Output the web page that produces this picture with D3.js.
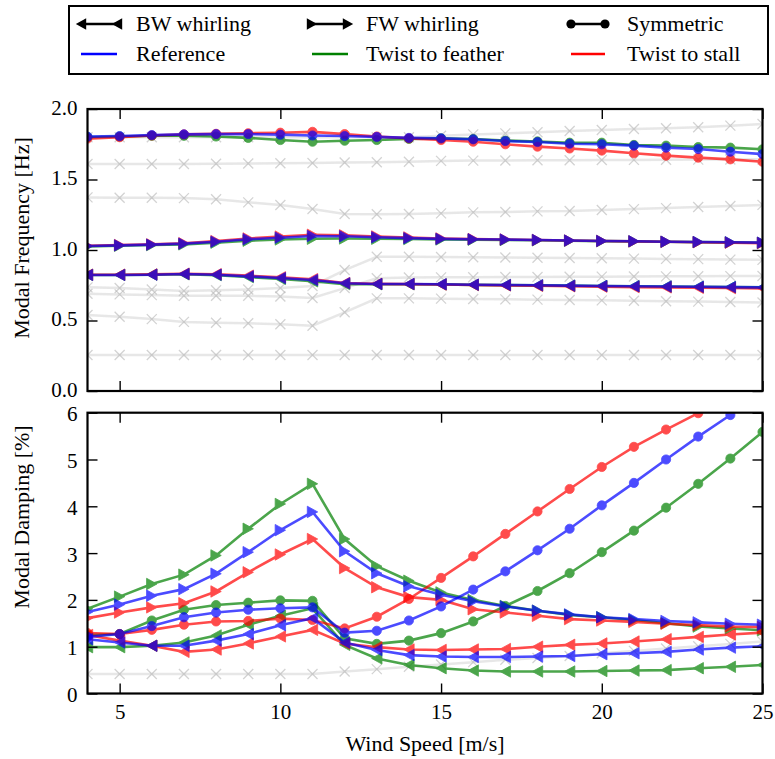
<!DOCTYPE html>
<html><head><meta charset="utf-8">
<script src="https://cdn.jsdelivr.net/npm/d3@7"></script>
<style>
body{margin:0;background:#fff}
</style>
</head><body>
<svg id="chart" width="775" height="759" font-family="'Liberation Serif', 'DejaVu Serif', serif"></svg>
<script>
// ---------------- DATA ----------------
const windSpeed = [4,5,6,7,8,9,10,11,12,13,14,15,16,17,18,19,20,21,22,23,24,25];
const variants = ["Twist to feather","Twist to stall","Reference"];
const variantColors = ["#008000","#ff0000","#0000ff"];
const modes = ["BW whirling","FW whirling","Symmetric"];

// Modal frequency [Hz] — order: feather, stall, reference
const freqBW = [
  [0.823,0.823,0.825,0.828,0.822,0.808,0.795,0.778,0.758,0.757,0.757,0.756,0.753,0.751,0.749,0.747,0.745,0.743,0.741,0.739,0.737,0.735],
  [0.825,0.825,0.827,0.832,0.828,0.818,0.806,0.793,0.766,0.760,0.758,0.755,0.752,0.749,0.746,0.743,0.740,0.737,0.735,0.732,0.730,0.728],
  [0.823,0.823,0.825,0.830,0.825,0.813,0.801,0.787,0.764,0.759,0.759,0.757,0.754,0.752,0.750,0.747,0.745,0.743,0.741,0.739,0.737,0.735]
];
const freqFW = [
  [1.026,1.030,1.035,1.040,1.052,1.066,1.075,1.080,1.082,1.080,1.078,1.075,1.073,1.071,1.069,1.066,1.063,1.061,1.058,1.056,1.054,1.051],
  [1.030,1.035,1.040,1.048,1.063,1.082,1.095,1.108,1.104,1.096,1.089,1.082,1.078,1.075,1.071,1.067,1.064,1.061,1.058,1.055,1.052,1.049],
  [1.028,1.033,1.038,1.045,1.059,1.076,1.087,1.099,1.097,1.090,1.084,1.079,1.076,1.074,1.071,1.067,1.064,1.062,1.059,1.057,1.055,1.052]
];
const freqSym = [
  [1.800,1.805,1.810,1.810,1.805,1.795,1.780,1.768,1.775,1.780,1.788,1.792,1.787,1.776,1.770,1.761,1.761,1.745,1.740,1.730,1.726,1.714],
  [1.790,1.800,1.812,1.820,1.824,1.828,1.832,1.838,1.822,1.805,1.792,1.780,1.768,1.750,1.733,1.720,1.705,1.686,1.669,1.655,1.643,1.626],
  [1.804,1.808,1.815,1.820,1.822,1.822,1.818,1.812,1.808,1.802,1.795,1.792,1.785,1.773,1.766,1.754,1.750,1.740,1.726,1.716,1.697,1.680]
];
// other (grey) modes, frequency
const freqOther = [
  [0.255,0.255,0.255,0.255,0.255,0.255,0.255,0.255,0.255,0.255,0.255,0.255,0.255,0.255,0.255,0.255,0.255,0.255,0.255,0.255,0.255,0.255],
  [0.539,0.527,0.510,0.490,0.484,0.480,0.473,0.463,0.558,0.657,0.657,0.655,0.652,0.650,0.648,0.645,0.643,0.640,0.637,0.634,0.631,0.628],
  [0.690,0.685,0.680,0.675,0.675,0.675,0.670,0.660,0.730,0.800,0.805,0.806,0.807,0.808,0.809,0.810,0.811,0.812,0.813,0.814,0.815,0.816],
  [0.735,0.730,0.720,0.710,0.715,0.720,0.730,0.745,0.858,0.952,0.952,0.950,0.948,0.947,0.945,0.943,0.941,0.939,0.937,0.935,0.932,0.930],
  [1.373,1.370,1.370,1.368,1.360,1.338,1.319,1.291,1.255,1.253,1.255,1.260,1.267,1.270,1.274,1.276,1.284,1.290,1.297,1.305,1.312,1.320],
  [1.610,1.610,1.610,1.610,1.612,1.613,1.615,1.617,1.620,1.622,1.626,1.632,1.634,1.635,1.636,1.637,1.638,1.639,1.640,1.641,1.642,1.643],
  [1.800,1.800,1.800,1.800,1.800,1.800,1.800,1.800,1.800,1.800,1.800,1.810,1.820,1.827,1.835,1.844,1.851,1.858,1.863,1.870,1.882,1.894]
];

// Modal damping [%] — order: feather, stall, reference
const dampBW = [
  [0.99,0.99,1.02,1.09,1.24,1.47,1.66,1.82,1.04,0.75,0.61,0.54,0.49,0.47,0.47,0.47,0.48,0.49,0.50,0.54,0.57,0.61],
  [1.25,1.13,1.02,0.89,0.94,1.07,1.22,1.36,1.07,0.99,0.94,0.93,0.94,0.95,1.00,1.04,1.07,1.11,1.16,1.21,1.26,1.30],
  [1.16,1.09,1.02,1.02,1.13,1.27,1.46,1.61,1.09,0.93,0.82,0.79,0.78,0.78,0.79,0.80,0.84,0.86,0.89,0.94,0.98,1.01]
];
const dampFW = [
  [1.81,2.07,2.34,2.54,2.95,3.52,4.05,4.48,3.30,2.72,2.41,2.16,2.00,1.87,1.77,1.68,1.63,1.57,1.50,1.43,1.39,1.35],
  [1.61,1.73,1.84,1.93,2.18,2.59,2.97,3.30,2.68,2.27,2.06,2.00,1.80,1.73,1.66,1.59,1.56,1.53,1.49,1.46,1.43,1.42],
  [1.74,1.90,2.09,2.23,2.56,3.02,3.49,3.88,3.04,2.57,2.29,2.11,1.97,1.86,1.77,1.69,1.63,1.59,1.55,1.52,1.49,1.47]
];
const dampSym = [
  [1.25,1.27,1.56,1.79,1.89,1.94,1.99,1.98,1.18,1.06,1.13,1.29,1.54,1.87,2.19,2.57,3.02,3.48,3.97,4.48,5.02,5.59],
  [1.29,1.27,1.36,1.47,1.54,1.55,1.60,1.57,1.39,1.64,2.02,2.47,2.93,3.41,3.89,4.37,4.84,5.27,5.64,5.99,6.35,6.70],
  [1.21,1.27,1.44,1.63,1.73,1.79,1.82,1.84,1.30,1.34,1.56,1.86,2.22,2.61,3.06,3.52,4.02,4.50,5.00,5.49,5.95,6.40]
];
const dampOther = [
  [0.415,0.415,0.415,0.415,0.415,0.415,0.415,0.415,0.47,0.52,0.57,0.62,0.67,0.72,0.76,0.80,0.86,0.91,0.96,1.01,1.06,1.11]
];

const xTicks = [5,10,15,20,25];
const freqTicks = [0.0,0.5,1.0,1.5,2.0];
const dampTicks = [0,1,2,3,4,5,6];

// ---------------- LAYOUT ----------------
const FONT = "'Liberation Serif', 'DejaVu Serif', serif";
const svg = d3.select("#chart");
const xL = 87.5, xR = 762.5;
const top1 = 109, bot1 = 391;
const top2 = 412.7, bot2 = 693.5;
const FS = 22;
const TFS = 21;

const x = d3.scaleLinear().domain([4,25]).range([xL,xR]);
const yF = d3.scaleLinear().domain([0,2]).range([bot1,top1]);
const yD = d3.scaleLinear().domain([0,6]).range([bot2,top2]);

const defs = svg.append("defs");
defs.append("clipPath").attr("id","clip1").append("rect")
  .attr("x",xL).attr("y",top1).attr("width",xR-xL).attr("height",bot1-top1);
defs.append("clipPath").attr("id","clip2").append("rect")
  .attr("x",xL).attr("y",top2).attr("width",xR-xL).attr("height",bot2-top2);

function markerPath(kind, s){
  if(kind==="BW"){ return `M${-s},0L${s},${-s*1.1}L${s},${s*1.1}Z`; }
  if(kind==="FW"){ return `M${s},0L${-s},${-s*1.1}L${-s},${s*1.1}Z`; }
  if(kind==="X"){ return `M${-s},${-s}L${s},${s}M${-s},${s}L${s},${-s}`; }
  return d3.symbol(d3.symbolCircle, Math.PI*s*s)();
}

function drawPanel(yScale, clipId, others, series){
  const g = svg.append("g").attr("clip-path",`url(#${clipId})`);
  const line = d3.line().x((d,i)=>x(windSpeed[i])).y(d=>yScale(d));
  others.forEach(vals=>{
    const gg = g.append("g");
    gg.append("path").attr("d",line(vals)).attr("fill","none")
      .attr("stroke","#d3d3d3").attr("stroke-width",2.5).attr("opacity",0.55);
    gg.selectAll("path.m").data(vals).join("path").attr("class","m")
      .attr("transform",(d,i)=>`translate(${x(windSpeed[i])},${yScale(d)})`)
      .attr("d",markerPath("X",5)).attr("fill","none")
      .attr("stroke","#b5b5b5").attr("stroke-width",1.3).attr("opacity",0.6);
  });
  series.forEach(s=>{
    const gg = g.append("g").attr("opacity",0.7);
    gg.append("path").attr("d",line(s.vals)).attr("fill","none")
      .attr("stroke",s.color).attr("stroke-width",2.6);
    const sz = s.kind==="SYM" ? 4.6 : 5.2;
    gg.selectAll("path.m").data(s.vals).join("path").attr("class","m")
      .attr("transform",(d,i)=>`translate(${x(windSpeed[i])},${yScale(d)})`)
      .attr("d",markerPath(s.kind,sz)).attr("fill",s.color).attr("stroke",s.color).attr("stroke-width",0.8);
  });
}

function buildSeries(bw,fw,sym){
  const out=[];
  for(let v=0; v<variants.length; v++){
    out.push({kind:"BW", color:variantColors[v], vals:bw[v]});
    out.push({kind:"FW", color:variantColors[v], vals:fw[v]});
    out.push({kind:"SYM", color:variantColors[v], vals:sym[v]});
  }
  return out;
}

drawPanel(yF,"clip1",freqOther,buildSeries(freqBW,freqFW,freqSym));
drawPanel(yD,"clip2",dampOther,buildSeries(dampBW,dampFW,dampSym));

// ---------------- AXES ----------------
function styleAxis(sel, showLabels, dy){
  sel.attr("font-family",FONT).attr("font-size",TFS);
  sel.select(".domain").remove();
  sel.selectAll(".tick line").attr("stroke","#000").attr("stroke-width",1.4);
  sel.selectAll(".tick text").attr("fill","#000");
  if(dy) sel.selectAll(".tick text").attr("dy",dy);
  if(!showLabels) sel.selectAll(".tick text").remove();
}
const TK = 10;
function panelAxes(yScale, yTicks, yFmt, top, bot, showX, ldy){
  styleAxis(svg.append("g").attr("transform",`translate(${xL},0)`)
    .call(d3.axisLeft(yScale).tickValues(yTicks).tickFormat(yFmt).tickSize(-TK).tickPadding(10)), true, ldy);
  styleAxis(svg.append("g").attr("transform",`translate(${xR},0)`)
    .call(d3.axisRight(yScale).tickValues(yTicks).tickSize(-TK)), false);
  styleAxis(svg.append("g").attr("transform",`translate(0,${top})`)
    .call(d3.axisTop(x).tickValues(xTicks).tickSize(-TK)), false);
  styleAxis(svg.append("g").attr("transform",`translate(0,${bot})`)
    .call(d3.axisBottom(x).tickValues(xTicks).tickFormat(d3.format("d")).tickSize(-TK).tickPadding(11)), showX);
  svg.append("rect").attr("x",xL).attr("y",top).attr("width",xR-xL).attr("height",bot-top)
    .attr("fill","none").attr("stroke","#000").attr("stroke-width",2.2);
}
panelAxes(yF, freqTicks, d3.format(".1f"), top1, bot1, false, "0.26em");
panelAxes(yD, dampTicks, d3.format("d"), top2, bot2, true, "0.38em");

// axis titles
function addText(sel){ return sel.attr("font-family",FONT).attr("font-size",FS).attr("fill","#000"); }
addText(svg.append("text")).attr("x",(xL+xR)/2).attr("y",751).attr("text-anchor","middle")
  .text("Wind Speed [m/s]");
addText(svg.append("text")).attr("transform",`translate(29,238) rotate(-90)`)
  .attr("text-anchor","middle").text("Modal Frequency [Hz]");
addText(svg.append("text")).attr("transform",`translate(29,517) rotate(-90)`)
  .attr("text-anchor","middle").text("Modal Damping [%]");

// ---------------- LEGEND ----------------
const lg = svg.append("g");
lg.append("rect").attr("x",69).attr("y",6).attr("width",699).attr("height",68)
  .attr("fill","#fff").attr("stroke","#000").attr("stroke-width",2);
const legendItems = [
  {label:modes[0], kind:"BW", color:"#000", col:0,row:0},
  {label:modes[1], kind:"FW", color:"#000", col:1,row:0},
  {label:modes[2], kind:"SYM", color:"#000", col:2,row:0},
  {label:variants[2], kind:null, color:variantColors[2], col:0,row:1},
  {label:variants[0], kind:null, color:variantColors[0], col:1,row:1},
  {label:variants[1], kind:null, color:variantColors[1], col:2,row:1}
];
const colX = [[81,117,136],[312,348,366],[571,605,627]];
const rowY = [24,54];
legendItems.forEach(it=>{
  const [x0,x1,tx] = colX[it.col];
  const yy = rowY[it.row];
  lg.append("line").attr("x1",x0).attr("x2",x1).attr("y1",yy).attr("y2",yy)
    .attr("stroke",it.color).attr("stroke-width",2.6);
  if(it.kind){
    [x0,x1].forEach(px=>{
      lg.append("path").attr("transform",`translate(${px},${yy})`)
        .attr("d",markerPath(it.kind, it.kind==="SYM"?4.6:5.2)).attr("fill","#000");
    });
  }
  addText(lg.append("text")).attr("x",tx).attr("y",yy).attr("dy","0.33em").text(it.label);
});
</script>
</body></html>
